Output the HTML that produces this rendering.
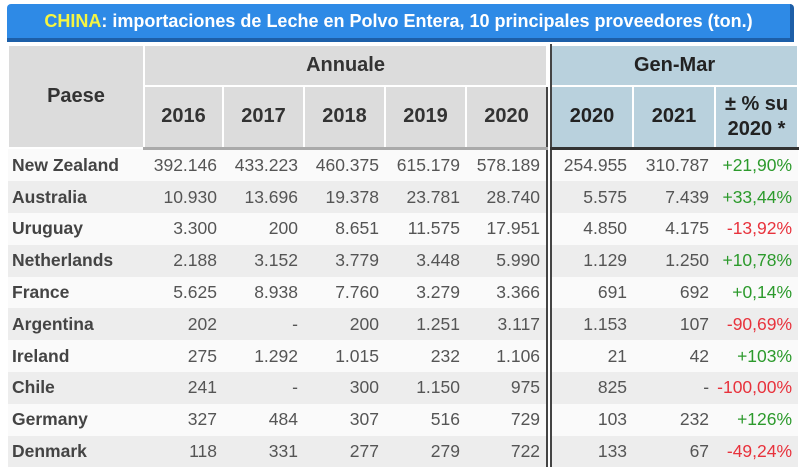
<!DOCTYPE html>
<html><head><meta charset="utf-8"><style>
body{margin:0;width:800px;height:470px;background:#fff;font-family:"Liberation Sans",Arial,sans-serif;overflow:hidden;position:relative}
#title{position:absolute;left:7px;top:4px;width:783px;height:34px;background:#2e8ae6;border-right:4px solid #1d5fa8;border-bottom:4px solid #1d5fa8;border-radius:4px 4px 0 0;color:#fff;font-weight:bold;font-size:18px;text-align:center;line-height:35px}
#title span{color:#f5f542}
table{position:absolute;left:7px;top:44px;border-collapse:collapse;table-layout:fixed;width:790px}
th{font-weight:bold;color:#333;font-size:20px;border:2px solid #fff;padding:0}
th.a{background:#dcdcdc}
th.g{background:#b9d1dd;color:#222}
td{font-size:17.5px;color:#555;text-align:right;padding:0 6px 0 0;height:31.8px;white-space:nowrap}
td.n{text-align:left;font-weight:bold;color:#444;padding-left:4px}
tr.o td{background:#fafafa}
tr.e td{background:#ededed}
td.s,th.s{background:#fff!important;border-left:2px solid #444;border-right:2px solid #444;padding:0;border-top:0;border-bottom:0}
tr.h2 th{border-bottom:3px solid #aaa}
tr.h2 th.gg{border-bottom:3px solid #333}
.p{color:#2c9a2c}.m{color:#e8323c}
</style></head><body>
<div id="title"><span>CHINA</span>: importaciones de Leche en Polvo Entera, 10 principales proveedores (ton.)</div>
<table>
<colgroup><col style="width:136px"><col style="width:79px"><col style="width:81px"><col style="width:81px"><col style="width:81px"><col style="width:81px"><col style="width:4px"><col style="width:82px"><col style="width:82px"><col style="width:83px"></colgroup>
<tr style="height:41px"><th class="a" rowspan="2">Paese</th><th class="a" colspan="5">Annuale</th><th class="s" rowspan="2"></th><th class="g" colspan="3">Gen-Mar</th></tr>
<tr class="h2" style="height:62px"><th class="a">2016</th><th class="a">2017</th><th class="a">2018</th><th class="a">2019</th><th class="a">2020</th><th class="g gg">2020</th><th class="g gg">2021</th><th class="g gg" style="line-height:25px">± % su<br>2020 *</th></tr>
<tbody id="tb"></tbody>
</table>
<script>
const countries=["New Zealand","Australia","Uruguay","Netherlands","France","Argentina","Ireland","Chile","Germany","Denmark"];
const y2016=["392.146","10.930","3.300","2.188","5.625","202","275","241","327","118"];
const y2017=["433.223","13.696","200","3.152","8.938","-","1.292","-","484","331"];
const y2018=["460.375","19.378","8.651","3.779","7.760","200","1.015","300","307","277"];
const y2019=["615.179","23.781","11.575","3.448","3.279","1.251","232","1.150","516","279"];
const y2020=["578.189","28.740","17.951","5.990","3.366","3.117","1.106","975","729","722"];
const q2020=["254.955","5.575","4.850","1.129","691","1.153","21","825","103","133"];
const q2021=["310.787","7.439","4.175","1.250","692","107","42","-","232","67"];
const change=["+21,90%","+33,44%","-13,92%","+10,78%","+0,14%","-90,69%","+103%","-100,00%","+126%","-49,24%"];
const tb=document.getElementById('tb');
countries.forEach((c,i)=>{
 const tr=document.createElement('tr');
 tr.className=i%2?'e':'o';
 
 
 const cells=[c,y2016[i],y2017[i],y2018[i],y2019[i],y2020[i],'',q2020[i],q2021[i],change[i]];
 cells.forEach((v,j)=>{
  const td=document.createElement('td');
  td.textContent=v;
  if(j===0)td.className='n';
  if(j===6)td.className='s';
  if(j===9)td.className=v.startsWith('-')?'m':'p';
  
  
  tr.appendChild(td);
 });
 tb.appendChild(tr);
});
</script>
</body></html>
